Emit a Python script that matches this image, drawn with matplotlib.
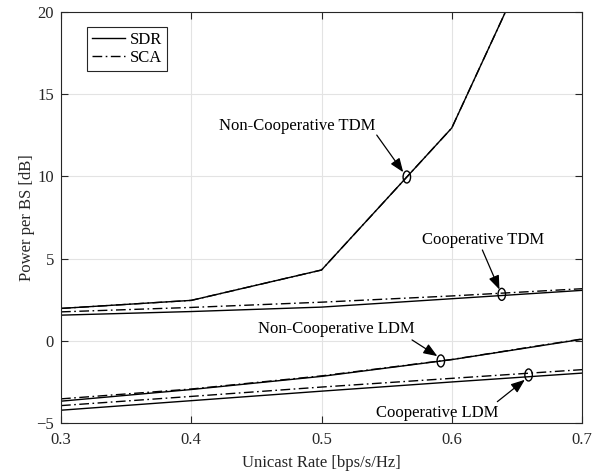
import matplotlib
matplotlib.use("Agg")
import matplotlib.pyplot as plt
import numpy as np
from matplotlib.patches import Ellipse

plt.rcParams['font.family'] = ['Liberation Serif', 'DejaVu Serif']
plt.rcParams['font.size'] = 12

# data
rate = [0.3, 0.4, 0.5, 0.6, 0.7]
noncoopTdmSdr = [1.96, 2.45, 4.30, 12.95, 30.1]
noncoopTdmSca = [1.96, 2.45, 4.30, 12.95, 30.1]
coopTdmSdr = [1.55, 1.77, 2.04, 2.55, 3.06]
coopTdmSca = [1.75, 2.02, 2.34, 2.72, 3.16]
noncoopLdmSdr = [-3.69, -2.98, -2.18, -1.16, 0.08]
noncoopLdmSca = [-3.55, -2.95, -2.15, -1.15, 0.10]
coopLdmSdr = [-4.24, -3.66, -3.08, -2.52, -1.98]
coopLdmSca = [-3.96, -3.40, -2.83, -2.30, -1.77]

xTicks = [0.3, 0.4, 0.5, 0.6, 0.7]
yTicks = [-5, 0, 5, 10, 15, 20]

# annotations: label, text pos, arrow start, ellipse x, curves
annotations = [
    ("Non-Cooperative TDM", (0.481, 13.07), (0.5424, 12.52), 0.5655, [noncoopTdmSdr, noncoopTdmSca]),
    ("Cooperative TDM", (0.624, 6.13), (0.6235, 5.52), 0.6384, [coopTdmSdr, coopTdmSca]),
    ("Non-Cooperative LDM", (0.511, 0.71), (0.5695, 0.04), 0.5916, [noncoopLdmSdr, noncoopLdmSca]),
    ("Cooperative LDM", (0.5887, -4.41), (0.635, -3.72), 0.659, [coopLdmSdr, coopLdmSca]),
]

fig = plt.figure(figsize=(6, 4.72), dpi=100)
ax = fig.add_axes([0.1017, 0.1045, 0.8683, 0.8695])

dashdot = (0, (7, 2.5, 1.2, 2.5))
ax.plot(rate, noncoopTdmSca, color='k', lw=1.0, linestyle=dashdot)
ax.plot(rate, noncoopTdmSdr, color='k', lw=1.0, linestyle='-', label='SDR')
ax.plot(rate, coopTdmSdr, color='k', lw=1.0, linestyle='-')
ax.plot(rate, coopTdmSca, color='k', lw=1.0, linestyle=dashdot, label='SCA')
ax.plot(rate, noncoopLdmSca, color='k', lw=1.0, linestyle=dashdot)
ax.plot(rate, noncoopLdmSdr, color='k', lw=1.0, linestyle='-')
ax.plot(rate, coopLdmSdr, color='k', lw=1.0, linestyle='-')
ax.plot(rate, coopLdmSca, color='k', lw=1.0, linestyle=dashdot)

ax.set_xlim(0.3, 0.7)
ax.set_ylim(-5, 20)

# ellipse size in data units (~7.5 x 12 px)
ellW = 7.5 / 1302.5
ellH = 12 / 16.42
for label, textPos, arrowStart, ex, curves in annotations:
    ey = np.mean([np.interp(ex, rate, c) for c in curves])
    ax.add_patch(Ellipse((ex, ey), ellW, ellH, fill=False, edgecolor='k', lw=1.0, zorder=5))
    # arrow ends at the top/bottom edge of the ellipse
    dx = ex - arrowStart[0]
    dy = ey - arrowStart[1]
    endY = ey + (ellH / 2) * (1 if dy < 0 else -1) * 0.8
    endX = ex - dx * 0.12
    ax.annotate('', xy=(endX, endY), xytext=arrowStart,
                arrowprops=dict(arrowstyle='-|>,head_length=0.7,head_width=0.27',
                                color='k', lw=0.9, shrinkA=0, shrinkB=0))
    ax.text(textPos[0], textPos[1], label, ha='center', va='center', fontsize=12)

ax.set_xticks(xTicks)
ax.set_xticklabels(["%.1f" % t for t in xTicks])
ax.set_yticks(yTicks)
ax.grid(True, color='#e3e3e3', lw=0.8, linestyle='-')
ax.set_axisbelow(True)
ax.tick_params(direction='in', top=True, right=True, length=5, width=0.8,
               colors='#262626', labelsize=12)
ax.tick_params(axis='x', pad=7)
ax.tick_params(axis='y', pad=5)
for s in ax.spines.values():
    s.set_color('#262626')
    s.set_linewidth(0.8)

ax.set_xlabel("Unicast Rate [bps/s/Hz]", fontsize=12, color='#262626', labelpad=5)
ax.set_ylabel("Power per BS [dB]", fontsize=12, color='#262626', labelpad=1)

leg = ax.legend(loc='upper left', bbox_to_anchor=(0.049, 0.965), borderaxespad=0,
                fancybox=False, framealpha=1, edgecolor='#262626', fontsize=12,
                handlelength=2.0, handletextpad=0.3, labelspacing=0.15, borderpad=0.3)
leg.get_frame().set_linewidth(0.8)

plt.savefig("out.png", dpi=100)
